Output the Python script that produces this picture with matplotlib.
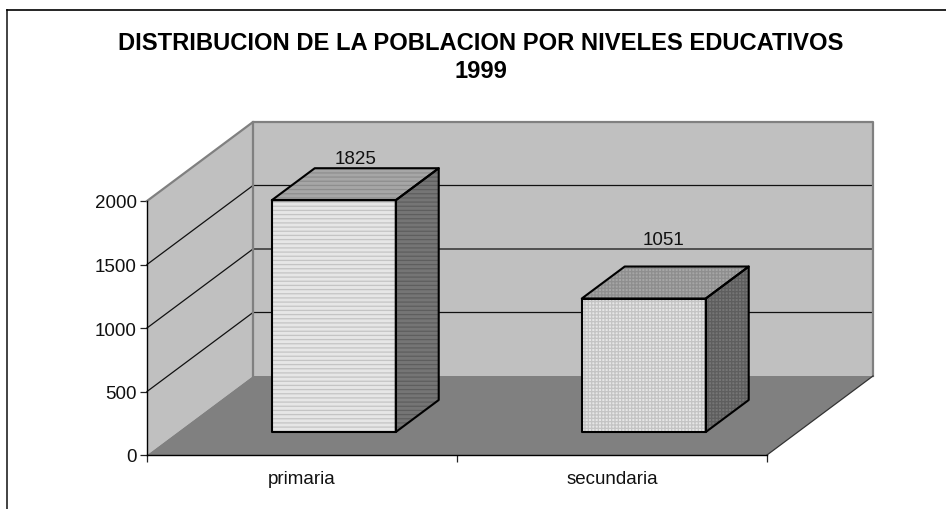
import matplotlib
matplotlib.use("Agg")
import matplotlib.pyplot as plt
from matplotlib.lines import Line2D
from matplotlib.patches import Polygon

categorias = ["primaria", "secundaria"]
poblacion = [1825, 1051]
y_ticks = [0, 500, 1000, 1500, 2000]

# oblique 3d look, depth d goes 0..1 from front to back wall
DX = 106 / 310
DY = 79 / 254 * 2000
ymax = 2000

def pr(x, y, d):
    return (x + DX * d, y + DY * d)

plt.rcParams["font.family"] = ["Liberation Sans", "DejaVu Sans"]
plt.rcParams["hatch.linewidth"] = 0.9

fig = plt.figure(figsize=(9.46, 5.10), dpi=100)
ax = fig.add_axes([147 / 946, (510 - 456) / 510, 620 / 946, 254 / 510])
ax.set_xlim(0, 2)
ax.set_ylim(0, ymax)
ax.patch.set_visible(False)

# only top and left of the frame show in the picture
fig.add_artist(Line2D([7 / 946, 7 / 946], [0, 1 - 11 / 510], transform=fig.transFigure, color="#222222", lw=1.2))
fig.add_artist(Line2D([7 / 946, 1], [1 - 11 / 510, 1 - 11 / 510], transform=fig.transFigure, color="black", lw=1.2))

# walls and floor
ax.add_patch(Polygon([pr(0, 0, 1), pr(2, 0, 1), pr(2, ymax, 1), pr(0, ymax, 1)], fc="#c0c0c0", ec="none", clip_on=False))
ax.add_patch(Polygon([pr(0, 0, 0), pr(0, 0, 1), pr(0, ymax, 1), pr(0, ymax, 0)], fc="#c0c0c0", ec="none", clip_on=False))
ax.add_patch(Polygon([pr(0, 0, 0), pr(2, 0, 0), pr(2, 0, 1), pr(0, 0, 1)], fc="#808080", ec="none", clip_on=False))

for t in y_ticks[1:-1]:
    xs, ys = zip(pr(0, t, 0), pr(0, t, 1), pr(2, t, 1))
    ax.plot(xs, ys, color="#111111", lw=0.9, clip_on=False)

# wall borders
xs, ys = zip(pr(0, ymax, 0), pr(0, ymax, 1), pr(2, ymax, 1), pr(2, 0, 1))
ax.plot(xs, ys, color="#808080", lw=1.6, clip_on=False)
xs, ys = zip(pr(0, ymax, 1), pr(0, 0, 1))
ax.plot(xs, ys, color="#808080", lw=1.6, clip_on=False)
xs, ys = zip(pr(2, 0, 0), pr(2, 0, 1))
ax.plot(xs, ys, color="#333333", lw=0.9, clip_on=False)

# bars
hatches = ["----", "+++++"]
label_pad = [10, 27]
label_shift = [0, -2]
ancho = 0.4
d0 = 23 / 79
d1 = 55 / 79
for i, v in enumerate(poblacion):
    x0 = i + 0.303
    x1 = x0 + ancho
    front = [pr(x0, 0, d0), pr(x1, 0, d0), pr(x1, v, d0), pr(x0, v, d0)]
    top = [pr(x0, v, d0), pr(x1, v, d0), pr(x1, v, d1), pr(x0, v, d1)]
    side = [pr(x1, 0, d0), pr(x1, 0, d1), pr(x1, v, d1), pr(x1, v, d0)]
    for pts, fc, hc in [(front, "#e6e6e6", "#c4c4c4"), (top, "#a6a6a6", "#8e8e8e"), (side, "#757575", "#5e5e5e")]:
        ax.add_patch(Polygon(pts, fc=fc, ec=hc, lw=0, hatch=hatches[i], clip_on=False, zorder=3))
        ax.add_patch(Polygon(pts, fill=False, ec="black", lw=1.5, joinstyle="round", clip_on=False, zorder=4))
    cx = pr(x0 + ancho / 2, v, 0.5 * (d0 + d1))[0]
    ax.annotate(str(v), (cx, pr(x0, v, d1)[1]), xytext=(label_shift[i], label_pad[i]), textcoords="offset pixels",
                ha="center", va="center", fontsize=13.5, color="#111111", annotation_clip=False, zorder=5)

ax.set_yticks(y_ticks)
ax.set_xticks([0, 1, 2])
ax.set_xticklabels([])
ax.set_xticks([0.5, 1.5], minor=True)
ax.set_xticklabels(categorias, minor=True)
ax.tick_params(axis="x", which="minor", length=0, pad=10.5, labelsize=13.5, labelcolor="#111111")
ax.tick_params(axis="x", which="major", length=5, width=0.9, color="#222222")
ax.tick_params(axis="y", length=5, width=0.9, pad=2.5, labelsize=13.5, color="#222222", labelcolor="#111111")
for s in ["top", "right"]:
    ax.spines[s].set_visible(False)
for s in ["left", "bottom"]:
    ax.spines[s].set_linewidth(1.0)
    ax.spines[s].set_zorder(6)

fig.text(481 / 946, 1 - 43 / 510, "DISTRIBUCION DE LA POBLACION POR NIVELES EDUCATIVOS", ha="center", va="center",
         fontsize=17.1, fontweight="bold")
fig.text(481 / 946, 1 - 72 / 510, "1999", ha="center", va="center", fontsize=17.1, fontweight="bold")

fig.savefig("out.png", dpi=100)
